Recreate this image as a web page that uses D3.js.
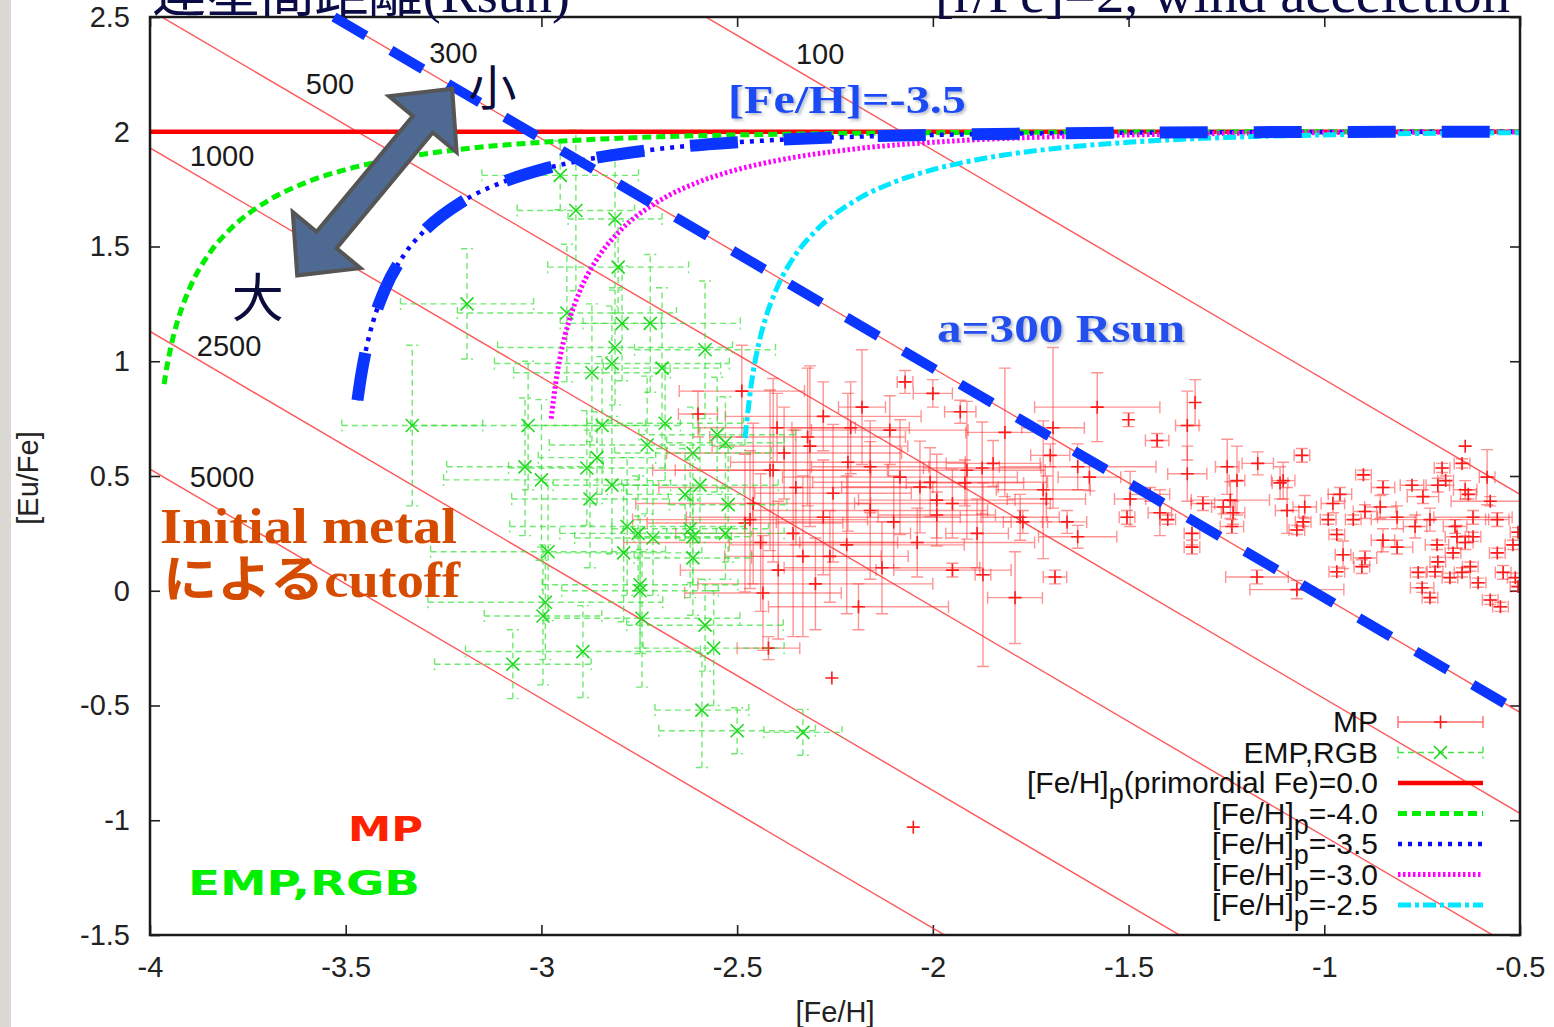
<!DOCTYPE html>
<html>
<head>
<meta charset="utf-8">
<script src="https://cdn.jsdelivr.net/npm/d3@7"></script>
<style>
  html, body { margin: 0; padding: 0; background: #fff; }
  svg { display: block; }
</style>
</head>
<body>
<svg id="chart" width="1554" height="1027"></svg>
<script>
// ---------------- data ----------------
const xTicks = [-4, -3.5, -3, -2.5, -2, -1.5, -1, -0.5];
const xTickLabels = ["-4", "-3.5", "-3", "-2.5", "-2", "-1.5", "-1", "-0.5"];
const yTicks = [-1.5, -1, -0.5, 0, 0.5, 1, 1.5, 2, 2.5];
const yTickLabels = ["-1.5", "-1", "-0.5", "0", "0.5", "1", "1.5", "2", "2.5"];

// constant binary separation (Rsun): each line is [Eu/Fe] = level - [Fe/H]
const sepLabels = ["100", "300", "500", "1000", "2500", "5000"];
const sepEuH = [-0.08, -1.03, -1.47, -2.07, -2.87, -3.47];
const sepLabelFe = [-2.288, -3.225, -3.54, -3.816, -3.798, -3.816];
const sepLabelEu = [2.339, 2.345, 2.209, 1.896, 1.065, 0.496];

// MP stars: [Fe/H], [Eu/Fe], error in [Fe/H], error in [Eu/Fe]
const mpStars = [
  [-2.488,0.87,0.16,0.20],[-2.398,0.71,0.20,0.15],[-2.60,0.77,0.05,0.10],[-2.071,0.91,0.02,0.05],
  [-2.00,0.86,0.05,0.06],[-1.816,0.69,0.10,0.28],[-1.58,0.80,0.16,0.15],[-2.181,0.80,0.06,0.25],
  [-1.93,0.78,0.04,0.05],[-1.693,0.71,0.08,0.35],[-1.70,0.59,0.05,0.05],[-1.63,0.54,0.20,0.10],
  [-1.60,0.495,0.08,0.06],[-2.314,0.63,0.25,0.35],[-2.217,0.56,0.30,0.30],[-2.16,0.54,0.15,0.20],
  [-2.255,0.425,0.20,0.30],[-2.416,0.525,0.30,0.35],[-2.084,0.495,0.30,0.25],[-2.033,0.452,0.20,0.20],
  [-1.99,0.33,0.15,0.10],[-1.95,0.38,0.25,0.15],[-1.913,0.525,0.20,0.30],[-1.874,0.535,0.15,0.20],
  [-1.918,0.47,0.15,0.10],[-1.777,0.32,0.10,0.10],[-1.77,0.30,0.05,0.05],[-1.887,0.25,0.08,0.15],
  [-1.657,0.30,0.05,0.05],[-1.63,0.235,0.10,0.05],[-1.688,0.06,0.03,0.03],[-1.79,-0.03,0.07,0.20],
  [-1.872,0.07,0.02,0.40],[-1.95,0.09,0.15,0.03],[-2.19,-0.07,0.23,0.10],[-2.258,-0.38,0,0],
  [-2.10,0.30,0.30,0.20],[-2.04,0.21,0.30,0.15],[-2.16,0.35,0.30,0.30],[-2.263,0.15,0.20,0.20],
  [-2.44,0.21,0.35,0.30],[-2.467,0.31,0.30,0.30],[-2.357,0.25,0.30,0.45],[-2.395,0.09,0.25,0.30],
  [-2.434,-0.01,0.20,0.25],[-2.42,-0.25,0.08,0.05],[-2.408,0.525,0.25,0.40],[-2.459,0.38,0.30,0.35],
  [-2.48,0.295,0.25,0.30],[-2.332,0.15,0.20,0.35],[-2.32,0.67,0.25,0.30],[-2.28,0.76,0.25,0.15],
  [-2.21,0.71,0.15,0.20],[-2.11,0.70,0.20,0.15],[-1.718,0.44,0.12,0.30],[-1.71,0.40,0.10,0.10],
  [-1.846,0.555,0.12,0.10],[-1.99,0.395,0.20,0.20],[-2.007,0.473,0.30,0.15],[-2.05,-1.03,0,0],
  [-2.35,0.45,0.35,0.25],[-2.28,0.32,0.35,0.25],[-2.22,0.20,0.30,0.30],[-2.38,0.60,0.30,0.20],
  [-2.13,0.10,0.25,0.20],[-2.30,0.03,0.30,0.20],
  [-1.33,0.82,0,0.10],[-1.50,0.745,0,0.03],[-1.35,0.72,0.03,0.15],[-1.427,0.655,0.03,0.03],
  [-0.64,0.63,0,0],[-1.057,0.59,0.02,0.03],[-1.17,0.555,0.04,0.05],[-1.105,0.48,0.03,0.08],
  [-0.90,0.505,0.02,0.02],[-0.699,0.535,0.02,0.02],[-0.648,0.555,0.02,0.02],[-0.584,0.495,0.02,0.12],
  [-0.85,0.45,0.03,0.03],[-0.776,0.46,0.03,0.02],[-0.748,0.41,0.04,0.03],[-0.71,0.46,0.03,0.03],
  [-0.64,0.44,0.03,0.04],[-0.632,0.42,0.02,0.02],[-0.576,0.39,0.10,0.02],[-0.96,0.42,0.03,0.03],
  [-0.978,0.38,0.03,0.04],[-0.896,0.345,0.03,0.03],[-0.857,0.365,0.04,0.05],[-0.814,0.32,0.05,0.05],
  [-0.768,0.28,0.03,0.05],[-0.73,0.31,0.15,0.05],[-0.666,0.28,0.03,0.03],[-0.62,0.32,0.10,0.03],
  [-0.558,0.31,0.03,0.03],[-0.505,0.255,0.02,0.02],[-0.926,0.31,0.02,0.02],[-0.99,0.31,0.02,0.02],
  [-0.968,0.245,0.02,0.02],[-0.85,0.22,0.03,0.05],[-0.814,0.19,0.04,0.03],[-0.712,0.20,0.03,0.02],
  [-0.661,0.235,0.03,0.05],[-0.64,0.21,0.02,0.03],[-0.62,0.235,0.02,0.02],[-0.518,0.20,0.02,0.02],
  [-0.671,0.165,0.02,0.02],[-0.558,0.165,0.02,0.02],[-0.952,0.157,0.02,0.06],[-0.896,0.143,0.03,0.03],
  [-0.904,0.105,0.02,0.03],[-0.71,0.126,0.02,0.02],[-0.76,0.08,0.02,0.02],[-0.717,0.083,0.02,0.02],
  [-0.679,0.057,0.02,0.02],[-0.648,0.08,0.02,0.02],[-0.627,0.105,0.02,0.02],[-0.607,0.035,0.02,0.02],
  [-0.543,0.08,0.02,0.03],[-0.512,0.057,0.02,0.02],[-0.505,0.018,0.02,0.02],[-0.75,0.013,0.03,0.02],
  [-0.73,-0.03,0.02,0.02],[-0.576,-0.04,0.02,0.02],[-0.55,-0.07,0.02,0.02],[-0.968,0.083,0.02,0.02],
  [-1.172,0.06,0.08,0.03],[-1.07,0.005,0.12,0.04],[-1.504,0.32,0.02,0.03],[-1.496,0.40,0.04,0.12],
  [-1.445,0.42,0.05,0.03],[-1.42,0.34,0.03,0.10],[-1.40,0.31,0.02,0.02],[-1.338,0.25,0.02,0.05],
  [-1.338,0.19,0.02,0.03],[-1.35,0.51,0.05,0.12],[-1.248,0.54,0.03,0.12],[-1.24,0.395,0.10,0.08],
  [-1.233,0.34,0.03,0.05],[-1.258,0.365,0.03,0.03],[-1.31,0.38,0.03,0.03],[-1.236,0.28,0.03,0.03],
  [-1.223,0.48,0.02,0.15],[-1.095,0.35,0.03,0.10],[-1.05,0.365,0.03,0.05],[-1.054,0.30,0.02,0.02],
  [-1.07,0.265,0.02,0.02],[-1.113,0.47,0.02,0.07],[-0.69,0.48,0.02,0.02]
];

// EMP giants (RGB): [Fe/H], [Eu/Fe], error in [Fe/H], error in [Eu/Fe]
const empStars = [
  [-2.952,1.81,0.20,0.15],[-2.912,1.657,0.15,0.35],[-2.812,1.62,0.12,0.30],[-2.804,1.41,0.18,0.20],
  [-3.19,1.25,0.17,0.24],[-2.935,1.21,0.28,0.30],[-2.794,1.165,0.10,0.25],[-2.722,1.165,0.23,0.30],
  [-2.812,1.06,0.30,0.25],[-2.582,1.05,0.18,0.30],[-2.82,0.99,0.30,0.25],[-2.871,0.95,0.20,0.30],
  [-2.692,0.97,0.15,0.35],[-3.33,0.72,0.18,0.35],[-3.034,0.72,0.30,0.28],[-2.845,0.72,0.20,0.30],
  [-2.684,0.73,0.20,0.25],[-2.73,0.635,0.25,0.30],[-2.551,0.68,0.20,0.25],[-2.53,0.645,0.15,0.20],
  [-2.613,0.60,0.20,0.20],[-3.042,0.54,0.20,0.30],[-2.884,0.535,0.20,0.25],[-2.858,0.58,0.15,0.20],
  [-3.00,0.483,0.25,0.35],[-2.82,0.46,0.15,0.30],[-2.876,0.40,0.20,0.30],[-2.595,0.46,0.20,0.25],
  [-2.633,0.42,0.15,0.20],[-2.523,0.375,0.15,0.25],[-2.781,0.28,0.30,0.30],[-2.753,0.25,0.20,0.25],
  [-2.715,0.23,0.20,0.25],[-2.62,0.27,0.20,0.30],[-2.613,0.235,0.15,0.20],[-2.53,0.25,0.15,0.20],
  [-2.983,0.17,0.30,0.30],[-2.79,0.165,0.20,0.30],[-2.613,0.143,0.15,0.25],[-2.748,0.026,0.25,0.30],
  [-2.748,0.00,0.20,0.25],[-2.99,-0.05,0.30,0.25],[-2.996,-0.11,0.15,0.30],[-2.743,-0.12,0.25,0.30],
  [-2.582,-0.15,0.20,0.20],[-2.56,-0.25,0.18,0.25],[-2.894,-0.265,0.30,0.20],[-3.073,-0.32,0.20,0.15],
  [-2.59,-0.52,0.12,0.25],[-2.50,-0.61,0.20,0.10],[-2.332,-0.617,0.10,0.10]
];

// model tracks for primordial [Fe/H]p = 0.0, -4.0, -3.5, -3.0, -2.5 ([r/Fe]=2 accreted)
const trackP00 = [[-4.0,2.0],[-0.5,2.0]];
const trackP40 = [[-3.964,0.90],[-3.96,0.944],[-3.95,1.036],[-3.94,1.111],[-3.93,1.173],[-3.90,1.313],
  [-3.85,1.466],[-3.80,1.567],[-3.70,1.698],[-3.60,1.780],[-3.50,1.835],[-3.40,1.874],[-3.20,1.925],
  [-3.00,1.954],[-2.70,1.978],[-2.40,1.989],[-2.00,1.996],[-1.50,1.999],[-0.50,2.0]];
const trackP35 = [[-3.470,0.83],[-3.46,0.944],[-3.45,1.036],[-3.44,1.111],[-3.43,1.173],[-3.40,1.313],
  [-3.35,1.466],[-3.30,1.567],[-3.20,1.698],[-3.10,1.780],[-3.00,1.835],[-2.90,1.874],[-2.70,1.925],
  [-2.50,1.954],[-2.20,1.978],[-1.90,1.989],[-1.50,1.996],[-1.00,1.999],[-0.50,2.0]];
const trackP30 = [[-2.975,0.75],[-2.96,0.944],[-2.95,1.036],[-2.94,1.111],[-2.93,1.173],[-2.90,1.313],
  [-2.85,1.466],[-2.80,1.567],[-2.70,1.698],[-2.60,1.780],[-2.50,1.835],[-2.40,1.874],[-2.20,1.925],
  [-2.00,1.954],[-1.70,1.978],[-1.40,1.989],[-1.00,1.996],[-0.50,1.999]];
const trackP25 = [[-2.480,0.665],[-2.46,0.944],[-2.45,1.036],[-2.44,1.111],[-2.43,1.173],[-2.40,1.313],
  [-2.35,1.466],[-2.30,1.567],[-2.20,1.698],[-2.10,1.780],[-2.00,1.835],[-1.90,1.874],[-1.70,1.925],
  [-1.50,1.954],[-1.20,1.978],[-0.90,1.989],[-0.50,1.996]];

// highlighted a = 300 Rsun line
const line300 = [[-3.53,2.50],[-0.50,-0.53]];

const legendLabels = ["MP", "EMP,RGB", "[Fe/H]_p(primordial Fe)=0.0", "[Fe/H]_p=-4.0",
                      "[Fe/H]_p=-3.5", "[Fe/H]_p=-3.0", "[Fe/H]_p=-2.5"];

// ---------------- layout ----------------
const W = 1554, H = 1027;
const plot = { left: 150, right: 1520, top: 17, bottom: 935 };
const x = d3.scaleLinear().domain([-4, -0.5]).range([plot.left, plot.right]);
const y = d3.scaleLinear().domain([-1.5, 2.5]).range([plot.bottom, plot.top]);

const sansFont = "'Liberation Sans', Arial, Helvetica, sans-serif";
const serifFont = "'Liberation Serif', 'Noto Sans CJK JP', serif";
const tickFontSize = "29px", legendFontSize = "30px";

const svg = d3.select("#chart");
svg.append("rect").attr("width", W).attr("height", H).attr("fill", "#fff");
svg.append("rect").attr("x", 0).attr("y", 0).attr("width", 11).attr("height", H).attr("fill", "#d9d8d2");

const defs = svg.append("defs");
defs.append("clipPath").attr("id", "plotClip")
  .append("rect").attr("x", plot.left).attr("y", plot.top)
  .attr("width", plot.right - plot.left).attr("height", plot.bottom - plot.top);
const sh = defs.append("filter").attr("id", "softShadow").attr("x", "-10%").attr("y", "-20%")
  .attr("width", "130%").attr("height", "160%");
sh.append("feDropShadow").attr("dx", 2).attr("dy", 2).attr("stdDeviation", 1.5)
  .attr("flood-color", "#7a8597").attr("flood-opacity", 0.55);

// ---------------- axes ----------------
function styleAxis(g) {
  g.select(".domain").remove();
  g.selectAll(".tick line").attr("stroke", "#222").attr("stroke-width", 1.6);
  g.selectAll(".tick text").attr("fill", "#222").style("font-family", sansFont).style("font-size", tickFontSize);
}
svg.append("g").attr("transform", `translate(0,${plot.bottom})`)
  .call(d3.axisBottom(x).tickValues(xTicks).tickFormat((d, i) => xTickLabels[i]).tickSize(-10).tickPadding(21))
  .call(styleAxis);
svg.append("g").attr("transform", `translate(0,${plot.top})`)
  .call(d3.axisTop(x).tickValues(xTicks).tickFormat("").tickSize(-10))
  .call(styleAxis);
svg.append("g").attr("transform", `translate(${plot.left},0)`)
  .call(d3.axisLeft(y).tickValues(yTicks).tickFormat((d, i) => yTickLabels[i]).tickSize(-10).tickPadding(20))
  .call(styleAxis);
svg.append("g").attr("transform", `translate(${plot.right},0)`)
  .call(d3.axisRight(y).tickValues(yTicks).tickFormat("").tickSize(-10))
  .call(styleAxis);

svg.append("text").attr("x", 835).attr("y", 1022)
  .attr("text-anchor", "middle").attr("fill", "#222")
  .style("font-family", sansFont).style("font-size", tickFontSize).text("[Fe/H]");
svg.append("text").attr("transform", `translate(38,478) rotate(-90)`)
  .attr("text-anchor", "middle").attr("fill", "#222")
  .style("font-family", sansFont).style("font-size", tickFontSize).text("[Eu/Fe]");

// ---------------- plot contents ----------------
const body = svg.append("g").attr("clip-path", "url(#plotClip)");

// constant separation lines
const domainX = x.domain();
body.append("g").selectAll("line").data(sepEuH).join("line")
  .attr("x1", x(domainX[0])).attr("y1", d => y(d - domainX[0]))
  .attr("x2", x(domainX[1])).attr("y2", d => y(d - domainX[1]))
  .attr("stroke", "#ff3a3a").attr("stroke-width", 1.4).attr("stroke-opacity", 0.85);

// error bars + markers
function drawStars(stars, opt) {
  const g = body.append("g");
  const bars = g.append("g").attr("stroke", opt.barColor).attr("stroke-opacity", opt.barOpacity)
    .attr("stroke-width", 1.4).attr("stroke-dasharray", opt.dash).attr("fill", "none");
  const cap = 6;
  stars.forEach(s => {
    const cx = x(s[0]), cy = y(s[1]);
    if (s[2] > 0) {
      const xa = x(s[0] - s[2]), xb = x(s[0] + s[2]);
      bars.append("path").attr("d", `M${xa},${cy}H${xb}M${xa},${cy - cap}V${cy + cap}M${xb},${cy - cap}V${cy + cap}`);
    }
    if (s[3] > 0) {
      const ya = y(s[1] - s[3]), yb = y(s[1] + s[3]);
      bars.append("path").attr("d", `M${cx},${ya}V${yb}M${cx - cap},${ya}H${cx + cap}M${cx - cap},${yb}H${cx + cap}`);
    }
  });
  const m = 6.5;
  g.append("g").attr("stroke", opt.markColor).attr("stroke-width", 1.6).attr("fill", "none")
    .selectAll("path").data(stars).join("path")
    .attr("d", s => {
      const cx = x(s[0]), cy = y(s[1]);
      return opt.marker === "plus"
        ? `M${cx - m},${cy}H${cx + m}M${cx},${cy - m}V${cy + m}`
        : `M${cx - m},${cy - m}L${cx + m},${cy + m}M${cx - m},${cy + m}L${cx + m},${cy - m}`;
    });
}
const mpStyle = { barColor: "#ff2a2a", barOpacity: 0.5, dash: null, markColor: "#ff1a1a", marker: "plus" };
const empStyle = { barColor: "#33e033", barOpacity: 0.7, dash: "6,4", markColor: "#1ed81e", marker: "cross" };
drawStars(mpStars, mpStyle);
drawStars(empStars, empStyle);

// model tracks
const lineGen = d3.line().x(d => x(d[0])).y(d => y(d[1])).curve(d3.curveMonotoneX);
const trackStyles = [
  { data: trackP00, color: "#ff0000", width: 4.5, dash: null },
  { data: trackP40, color: "#00ee00", width: 5, dash: "9,5" },
  { data: trackP35, color: "#0a0aff", width: 4.5, dash: "4,6" },
  { data: trackP30, color: "#ff00ff", width: 5, dash: "2.5,2.5" },
  { data: trackP25, color: "#00e8ff", width: 5, dash: "13,4,4,4" }
];
body.append("g").selectAll("path").data(trackStyles).join("path")
  .attr("d", d => lineGen(d.data)).attr("fill", "none")
  .attr("stroke", d => d.color).attr("stroke-width", d => d.width)
  .attr("stroke-dasharray", d => d.dash);

// frame
svg.append("rect").attr("x", plot.left).attr("y", plot.top)
  .attr("width", plot.right - plot.left).attr("height", plot.bottom - plot.top)
  .attr("fill", "none").attr("stroke", "#1a1a1a").attr("stroke-width", 2.5);

// separation labels
svg.append("g").selectAll("text").data(sepLabels).join("text")
  .attr("x", (d, i) => x(sepLabelFe[i])).attr("y", (d, i) => y(sepLabelEu[i]))
  .attr("text-anchor", "middle").attr("dominant-baseline", "central")
  .attr("fill", "#1a1a1a").style("font-family", sansFont).style("font-size", tickFontSize)
  .text(d => d);

// ---------------- legend ----------------
const legRight = 1378, legX0 = 1398, legX1 = 1483, legY0 = 722, legDy = 30.5;
const legend = svg.append("g");
legendLabels.forEach((lab, i) => {
  const ly = legY0 + i * legDy;
  const t = legend.append("text").attr("x", legRight).attr("y", ly + 10)
    .attr("text-anchor", "end").attr("fill", "#111")
    .style("font-family", sansFont).style("font-size", legendFontSize);
  const parts = lab.split("_p");
  if (parts.length === 2) {
    t.append("tspan").text(parts[0]);
    t.append("tspan").attr("dy", 10).style("font-size", "27px").text("p");
    t.append("tspan").attr("dy", -10).text(parts[1]);
  } else {
    t.text(lab);
  }
  if (i === 0 || i === 1) {
    const st = i === 0 ? mpStyle : empStyle;
    const xm = (legX0 + legX1) / 2, m = 6.5;
    legend.append("path")
      .attr("d", `M${legX0},${ly}H${legX1}M${legX0},${ly - 6}V${ly + 6}M${legX1},${ly - 6}V${ly + 6}`)
      .attr("stroke", st.barColor).attr("stroke-opacity", st.barOpacity + 0.2)
      .attr("stroke-width", 1.4).attr("stroke-dasharray", st.dash).attr("fill", "none");
    legend.append("path")
      .attr("d", i === 0 ? `M${xm - m},${ly}H${xm + m}M${xm},${ly - m}V${ly + m}`
                         : `M${xm - m},${ly - m}L${xm + m},${ly + m}M${xm - m},${ly + m}L${xm + m},${ly - m}`)
      .attr("stroke", st.markColor).attr("stroke-width", 1.6);
  } else {
    const ts = trackStyles[i - 2];
    legend.append("line").attr("x1", legX0).attr("x2", legX1).attr("y1", ly).attr("y2", ly)
      .attr("stroke", ts.color).attr("stroke-width", ts.width).attr("stroke-dasharray", ts.dash);
  }
});

// ---------------- annotations ----------------
const anno = svg.append("g");
const blue = "#0b36ff";

// emphasised a = 300 Rsun line and [Fe/H]p = -3.5 track
anno.append("path").attr("d", lineGen(line300)).attr("fill", "none")
  .attr("stroke", blue).attr("stroke-width", 10).attr("stroke-dasharray", "37,29");
anno.append("path").attr("d", lineGen(trackP35)).attr("fill", "none")
  .attr("stroke", blue).attr("stroke-width", 12).attr("stroke-dasharray", "48,46");

// double-headed arrow between separation extremes
const arrowEnds = [[-3.624, 1.374], [-3.228, 2.187]];
(function () {
  const p0 = [x(arrowEnds[0][0]), y(arrowEnds[0][1])];
  const p1 = [x(arrowEnds[1][0]), y(arrowEnds[1][1])];
  const dx = p1[0] - p0[0], dy = p1[1] - p0[1], L = Math.hypot(dx, dy);
  const ux = dx / L, uy = dy / L, nx = -uy, ny = ux;
  const hl = 46, hw = 44, sw = 13;
  const P = (t, s) => [p0[0] + ux * t + nx * s, p0[1] + uy * t + ny * s];
  const pts = [P(0, 0), P(hl, hw), P(hl, sw), P(L - hl, sw), P(L - hl, hw), P(L, 0),
               P(L - hl, -hw), P(L - hl, -sw), P(hl, -sw), P(hl, -hw)];
  anno.append("polygon").attr("points", pts.map(p => p.join(",")).join(" "))
    .attr("fill", "#4e6a93").attr("stroke", "#555").attr("stroke-width", 4)
    .attr("stroke-linejoin", "miter");
})();

anno.append("text").attr("x", x(-3.125)).attr("y", y(2.19)).attr("text-anchor", "middle")
  .attr("dominant-baseline", "central").attr("fill", "#0b0b3c")
  .style("font-family", serifFont).style("font-size", "48px").text("小");
anno.append("text").attr("x", x(-3.725)).attr("y", y(1.27)).attr("text-anchor", "middle")
  .attr("dominant-baseline", "central").attr("fill", "#0b0b3c")
  .style("font-family", serifFont).style("font-size", "52px").text("大");

anno.append("text").attr("x", 728).attr("y", 113).attr("textLength", 238).attr("lengthAdjust", "spacingAndGlyphs")
  .attr("fill", "#1d4cf6").attr("filter", "url(#softShadow)")
  .style("font-family", serifFont).style("font-weight", "bold").style("font-size", "40px")
  .text("[Fe/H]=-3.5");
anno.append("text").attr("x", 937).attr("y", 342).attr("textLength", 248).attr("lengthAdjust", "spacingAndGlyphs")
  .attr("fill", "#2450ee").attr("filter", "url(#softShadow)")
  .style("font-family", serifFont).style("font-weight", "bold").style("font-size", "40px")
  .text("a=300 Rsun");

const orange = "#d54b00";
anno.append("text").attr("x", 160).attr("y", 543).attr("textLength", 297).attr("lengthAdjust", "spacingAndGlyphs")
  .attr("fill", orange).style("font-family", serifFont).style("font-weight", "bold").style("font-size", "50px")
  .text("Initial metal");
anno.append("text").attr("x", 163).attr("y", 597).attr("textLength", 297).attr("lengthAdjust", "spacingAndGlyphs")
  .attr("fill", orange).style("font-family", serifFont).style("font-weight", "bold").style("font-size", "50px")
  .text("によるcutoff");

anno.append("text").attr("x", 348).attr("y", 841).attr("textLength", 75).attr("lengthAdjust", "spacingAndGlyphs")
  .attr("fill", "#ff2200").style("font-family", "'DejaVu Sans', sans-serif").style("font-weight", "bold")
  .style("font-size", "34px").text("MP");
anno.append("text").attr("x", 188).attr("y", 895).attr("textLength", 232).attr("lengthAdjust", "spacingAndGlyphs")
  .attr("fill", "#00ee00").style("font-family", "'DejaVu Sans', sans-serif").style("font-weight", "bold")
  .style("font-size", "34px").text("EMP,RGB");

// slide titles running off the top edge
anno.append("text").attr("x", 152).attr("y", 12).attr("textLength", 418).attr("lengthAdjust", "spacingAndGlyphs")
  .attr("fill", "#0b0b45").style("font-family", serifFont).style("font-size", "54px")
  .text("連星間距離(Rsun)");
anno.append("text").attr("x", 935).attr("y", 12).attr("textLength", 575).attr("lengthAdjust", "spacingAndGlyphs")
  .attr("fill", "#0b0b45").style("font-family", serifFont).style("font-size", "54px")
  .text("[r/Fe]=2, wind acceletion");
</script>
</body>
</html>
